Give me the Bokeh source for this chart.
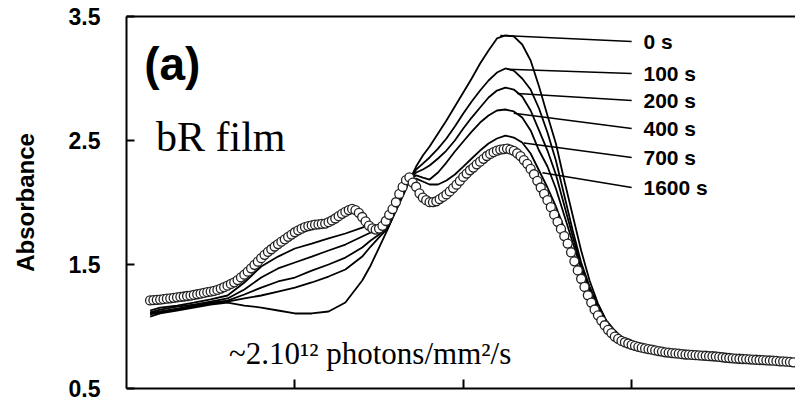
import math

from bokeh.plotting import figure
from bokeh.models import Range1d, LinearAxis, FixedTicker, Label
from bokeh.embed import file_html
from bokeh.resources import INLINE

# ---- data -------------------------------------------------------------
# wavelength grid (nm) of the solid traces
line_wl = [214, 220, 230, 240, 250, 260, 270, 280, 290, 300,
           310, 320, 330, 340, 345, 350, 355, 360, 365, 368,
           372, 376, 380, 385, 390, 395, 400, 405, 410, 415,
           420, 425, 430, 435, 440, 445, 450, 455, 460, 465,
           470, 475, 480, 485, 490, 495, 500, 510, 520, 530,
           540, 550, 560, 570, 580, 590, 598]

abs_0s = [1.080, 1.105, 1.129, 1.153, 1.177, 1.193, 1.169, 1.153, 1.129, 1.105,
          1.105, 1.121, 1.193, 1.371, 1.492, 1.637, 1.782, 1.935, 2.081, 2.177,
          2.290, 2.379, 2.452, 2.556, 2.661, 2.774, 2.887, 3.000, 3.121, 3.226,
          3.323, 3.347, 3.339, 3.274, 3.145, 2.935, 2.702, 2.476, 2.177, 1.895,
          1.613, 1.371, 1.185, 1.048, 0.968, 0.903, 0.850, 0.810, 0.785, 0.770,
          0.760, 0.750, 0.735, 0.727, 0.720, 0.710, 0.703]

abs_100s = [1.097, 1.113, 1.137, 1.161, 1.185, 1.201, 1.226, 1.250, 1.282, 1.314,
            1.355, 1.403, 1.460, 1.564, 1.645, 1.718, 1.790, 1.935, 2.081, 2.177,
            2.266, 2.314, 2.363, 2.435, 2.516, 2.613, 2.718, 2.814, 2.903, 2.984,
            3.048, 3.081, 3.064, 3.000, 2.911, 2.758, 2.564, 2.339, 2.056, 1.774,
            1.516, 1.322, 1.169, 1.040, 0.960, 0.903, 0.850, 0.810, 0.785, 0.770,
            0.760, 0.750, 0.735, 0.727, 0.720, 0.710, 0.703]

abs_200s = [1.105, 1.121, 1.145, 1.169, 1.193, 1.209, 1.258, 1.314, 1.363, 1.395,
            1.451, 1.500, 1.556, 1.637, 1.693, 1.742, 1.798, 1.951, 2.097, 2.177,
            2.242, 2.266, 2.298, 2.355, 2.419, 2.500, 2.597, 2.685, 2.766, 2.847,
            2.903, 2.927, 2.911, 2.855, 2.742, 2.581, 2.419, 2.226, 1.976, 1.726,
            1.492, 1.314, 1.169, 1.040, 0.960, 0.903, 0.850, 0.810, 0.785, 0.770,
            0.760, 0.750, 0.735, 0.727, 0.720, 0.710, 0.703]

abs_400s = [1.113, 1.137, 1.161, 1.177, 1.201, 1.226, 1.298, 1.395, 1.468, 1.516,
            1.564, 1.613, 1.661, 1.726, 1.758, 1.782, 1.814, 1.951, 2.097, 2.185,
            2.218, 2.201, 2.185, 2.242, 2.322, 2.411, 2.492, 2.572, 2.645, 2.702,
            2.742, 2.750, 2.734, 2.685, 2.581, 2.419, 2.290, 2.113, 1.895, 1.677,
            1.468, 1.298, 1.161, 1.032, 0.960, 0.895, 0.850, 0.810, 0.785, 0.770,
            0.760, 0.750, 0.735, 0.727, 0.720, 0.710, 0.703]

abs_700s = [1.129, 1.153, 1.169, 1.193, 1.218, 1.250, 1.355, 1.484, 1.564, 1.629,
            1.669, 1.710, 1.750, 1.798, 1.822, 1.814, 1.822, 1.960, 2.105, 2.185,
            2.193, 2.169, 2.145, 2.145, 2.177, 2.226, 2.290, 2.355, 2.419, 2.476,
            2.516, 2.540, 2.524, 2.484, 2.395, 2.258, 2.121, 1.968, 1.790, 1.613,
            1.403, 1.258, 1.137, 1.024, 0.952, 0.895, 0.850, 0.810, 0.785, 0.770,
            0.760, 0.750, 0.735, 0.727, 0.720, 0.710, 0.703]

# 1600 s spectrum, sampled every 2 nm from 214 nm to 596 nm
circle_wl = list(range(214, 598, 2))
abs_1600s = [1.210, 1.212, 1.215, 1.217, 1.220, 1.224, 1.227, 1.231, 1.235, 1.239,
             1.242, 1.246, 1.249, 1.255, 1.260, 1.265, 1.271, 1.277, 1.282, 1.287,
             1.295, 1.306, 1.317, 1.329, 1.343, 1.356, 1.374, 1.396, 1.418, 1.442,
             1.469, 1.497, 1.523, 1.551, 1.578, 1.602, 1.623, 1.645, 1.665, 1.684,
             1.703, 1.723, 1.741, 1.760, 1.776, 1.789, 1.802, 1.810, 1.816, 1.821,
             1.824, 1.827, 1.830, 1.841, 1.855, 1.871, 1.890, 1.909, 1.924, 1.939,
             1.948, 1.939, 1.917, 1.883, 1.847, 1.814, 1.792, 1.782, 1.790, 1.812,
             1.851, 1.901, 1.947, 2.002, 2.069, 2.126, 2.181, 2.203, 2.161, 2.127,
             2.074, 2.040, 2.019, 2.003, 2.003, 2.010, 2.027, 2.045, 2.065, 2.089,
             2.116, 2.144, 2.175, 2.206, 2.233, 2.260, 2.282, 2.308, 2.329, 2.352,
             2.375, 2.392, 2.406, 2.418, 2.427, 2.431, 2.435, 2.427, 2.417, 2.397,
             2.374, 2.342, 2.312, 2.271, 2.228, 2.175, 2.121, 2.070, 2.019, 1.962,
             1.902, 1.844, 1.787, 1.729, 1.669, 1.598, 1.526, 1.452, 1.385, 1.319,
             1.252, 1.193, 1.137, 1.090, 1.048, 1.010, 0.973, 0.947, 0.919, 0.901,
             0.884, 0.873, 0.863, 0.852, 0.844, 0.836, 0.829, 0.823, 0.818, 0.813,
             0.807, 0.802, 0.798, 0.792, 0.790, 0.786, 0.783, 0.781, 0.777, 0.774,
             0.773, 0.771, 0.769, 0.767, 0.765, 0.764, 0.761, 0.760, 0.758, 0.755,
             0.752, 0.748, 0.746, 0.743, 0.741, 0.740, 0.738, 0.737, 0.735, 0.733,
             0.732, 0.730, 0.729, 0.727, 0.726, 0.724, 0.722, 0.719, 0.718, 0.716,
             0.714, 0.711]

series_labels = ["0 s", "100 s", "200 s", "400 s", "700 s", "1600 s"]
y_ticks = [0.5, 1.5, 2.5, 3.5]
x_ticks = [300, 400, 500]

# ---- callout layout (wavelength, absorbance) --------------------------
leader_start_x = [422, 426, 432, 430, 436, 447]
leader_start_y = [3.347, 3.075, 2.880, 2.720, 2.480, 2.240]
leader_end_x = 500
leader_end_y = [3.298, 3.040, 2.823, 2.597, 2.363, 2.121]
callout_text_x = 507

# ---- figure -----------------------------------------------------------
p = figure(width=795, height=406,
           x_range=Range1d(200, 597.3), y_range=Range1d(0.5, 3.5),
           output_backend="svg", toolbar_location=None,
           min_border_left=126, min_border_right=0,
           min_border_top=16, min_border_bottom=18)
p.outline_line_color = None
p.grid.visible = False
p.background_fill_color = "white"
p.border_fill_color = "white"

# bottom axis: inward ticks, no tick labels
xa = p.xaxis[0]
xa.ticker = FixedTicker(ticks=x_ticks)
xa.major_label_text_color = None
xa.major_tick_in = 9
xa.major_tick_out = 0
xa.minor_tick_line_color = None
xa.axis_line_width = 2
xa.major_tick_line_width = 2

# left axis: inward ticks, bold labels, rotated title
ya = p.yaxis[0]
ya.ticker = FixedTicker(ticks=y_ticks)
ya.major_label_text_font = "Liberation Sans"
ya.major_label_text_font_style = "bold"
ya.major_label_text_font_size = "23px"
ya.major_label_text_color = "black"
ya.major_label_standoff = 26
ya.major_tick_in = 8
ya.major_tick_out = 0
ya.minor_tick_line_color = None
ya.axis_line_width = 2
ya.major_tick_line_width = 2
ya.axis_label = "Absorbance"
ya.axis_label_text_font = "Liberation Sans"
ya.axis_label_text_font_style = "bold"
ya.axis_label_text_font_size = "24px"
ya.axis_label_text_color = "black"
ya.axis_label_standoff = 27

# top frame line
top_axis = LinearAxis(ticker=FixedTicker(ticks=[]),
                      major_label_text_color=None,
                      major_tick_line_color=None,
                      minor_tick_line_color=None,
                      axis_line_width=2)
p.add_layout(top_axis, "above")

# solid traces
for vals in [abs_0s, abs_100s, abs_200s, abs_400s, abs_700s]:
    p.line(line_wl, vals, line_color="black", line_width=1.8)

# open-circle trace on top
p.scatter(circle_wl, abs_1600s, marker="circle", size=9,
          fill_color="white", line_color="#222222", line_width=1.3)

# callout leaders and their labels
p.segment(x0=leader_start_x, y0=leader_start_y,
          x1=[leader_end_x] * len(leader_end_y), y1=leader_end_y,
          line_color="black", line_width=1.5)
for txt, yv in zip(series_labels, leader_end_y):
    p.add_layout(Label(x=callout_text_x, y=yv, text=txt,
                       text_font="Liberation Sans", text_font_style="bold",
                       text_font_size="21px", text_color="black",
                       text_align="left", text_baseline="middle"))

# panel annotations
p.add_layout(Label(x=210.5, y=3.12, text="(a)",
                   text_font="Liberation Sans", text_font_style="bold",
                   text_font_size="46px", text_color="black",
                   text_align="left", text_baseline="middle"))
p.add_layout(Label(x=217.5, y=2.53, text="bR film",
                   text_font="Liberation Serif", text_font_size="42px",
                   text_color="black", text_align="left",
                   text_baseline="middle"))
p.add_layout(Label(x=260.8, y=0.785, text="~2.10\u00b9\u00b2 photons/mm\u00b2/s",
                   text_font="Liberation Serif", text_font_size="31px",
                   text_color="black", text_align="left",
                   text_baseline="middle"))

open("out.html", "w").write(file_html(p, INLINE))
